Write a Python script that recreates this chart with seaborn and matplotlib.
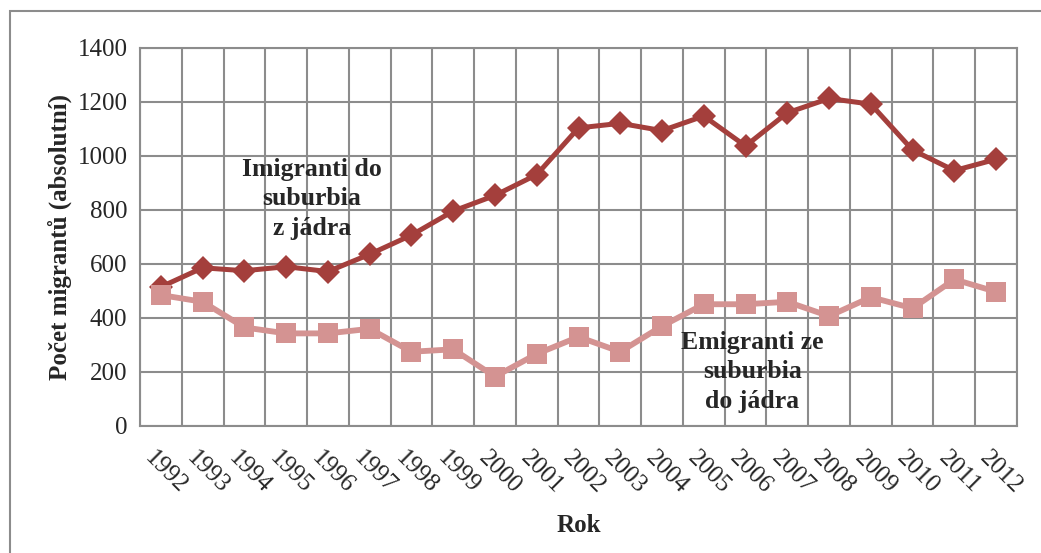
import pandas as pd
import matplotlib
matplotlib.use("Agg")
import matplotlib.pyplot as plt
import seaborn as sns
from matplotlib.patches import Rectangle
from matplotlib.transforms import ScaledTranslation

# data
years = list(range(1992, 2013))
imigranti = [515, 586, 575, 590, 572, 636, 707, 796, 854, 931, 1104, 1121, 1094, 1148, 1037,
             1160, 1213, 1192, 1022, 946, 988]
emigranti = [485, 460, 365, 343, 343, 360, 275, 284, 183, 267, 330, 275, 370, 451, 451,
             460, 407, 477, 436, 543, 497]

dark = "#A43F3C"
light = "#D49392"
grid_col = "#8C8C8C"

sns.set_style("white")
plt.rcParams['font.family'] = ['Liberation Serif', 'DejaVu Serif']
plt.rcParams['font.size'] = 18

df = pd.DataFrame({"Rok": years, "imi": imigranti, "emi": emigranti})

fig = plt.figure(figsize=(10.41, 5.53), dpi=100)
ax = fig.add_axes([140 / 1041, 1 - 426 / 553, (1017 - 140) / 1041, (426 - 48) / 553])

sns.lineplot(data=df, x="Rok", y="imi", ax=ax, color=dark, linewidth=3.6,
             marker="D", markersize=12, markeredgewidth=0, zorder=3)
sns.lineplot(data=df, x="Rok", y="emi", ax=ax, color=light, linewidth=4.2,
             marker="s", markersize=14, markeredgewidth=0, zorder=4)

ax.set_xlim(1991.5, 2012.5)
ax.set_ylim(0, 1400)
ax.set_yticks(range(0, 1401, 200))
ax.set_xticks(years)
ax.set_xticklabels([str(y) for y in years], rotation=-45, ha="center", va="top")
ax.set_xticks([y + 0.5 for y in range(1991, 2013)], minor=True)

ax.tick_params(axis="x", which="major", length=0, pad=15, labelsize=18)
ax.tick_params(axis="x", which="minor", length=6, width=1.5, color=grid_col, direction="out")
ax.tick_params(axis="y", length=6, width=1.5, color=grid_col, direction="out", labelsize=18, pad=3)

# nudge the slanted year labels a little to the right
shift = ScaledTranslation(5 / 100, 0, fig.dpi_scale_trans)
for lbl in ax.get_xticklabels():
    lbl.set_transform(lbl.get_transform() + shift)

ax.grid(False)
ax.grid(axis="y", which="major", color=grid_col, linewidth=1.5)
ax.grid(axis="x", which="minor", color=grid_col, linewidth=1.5)
ax.set_axisbelow(True)
for s in ax.spines.values():
    s.set_color(grid_col)
    s.set_linewidth(1.5)

ax.set_xlabel("Rok", fontweight="bold", fontsize=18, labelpad=12)
ax.set_ylabel("Počet migrantů (absolutní)", fontweight="bold", fontsize=18, labelpad=4)

ax.text(1995.62, 841, "Imigranti do\nsuburbia\nz jádra", ha="center", va="center",
        fontweight="bold", fontsize=18.5, linespacing=1.38, zorder=5)
ax.text(2006.16, 200, "Emigranti ze\nsuburbia\ndo jádra", ha="center", va="center",
        fontweight="bold", fontsize=18.5, linespacing=1.38, zorder=5)

fig.patches.append(Rectangle((10 / 1041, -0.1), 1.1, 1 - 11 / 553 + 0.1,
                             transform=fig.transFigure, fill=False,
                             edgecolor=grid_col, linewidth=1.5))

fig.savefig("out.png", dpi=100)
